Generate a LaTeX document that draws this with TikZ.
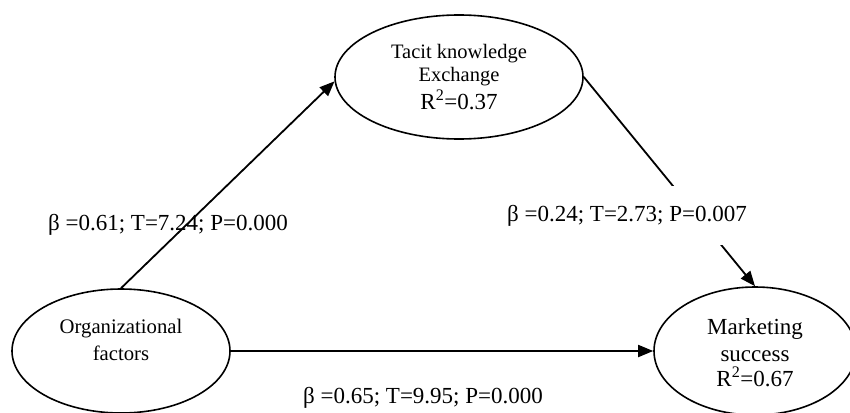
\documentclass[tikz,border=0pt]{standalone}
\usepackage{fontspec}
\setmainfont{Liberation Serif}
\usetikzlibrary{shapes.geometric,arrows.meta}
\tikzset{
  ell/.style={draw, ellipse, line width=1.6pt, inner sep=0pt},
  conn/.style={line width=1.8pt, -{Triangle[length=15pt,width=12pt]}},
  lbl/.style={font=\fontsize{23}{27}\selectfont, inner sep=0pt, anchor=base},
  etxt/.style={align=center, inner sep=0pt}
}
\begin{document}
\begin{tikzpicture}[x=1pt,y=-1pt]
\useasboundingbox (0,0) rectangle (850,412);
\fill[white] (0,0) rectangle (850,412);
% ellipses
\node[ell, minimum width=248pt, minimum height=124pt] (tke) at (459,77) {};
\node[ell, minimum width=218pt, minimum height=124pt] (org) at (121,351) {};
\node[ell, minimum width=202pt, minimum height=128pt] (ms) at (755,351) {};
% texts in ellipses
\node[etxt, font=\fontsize{20.5}{23.4}\selectfont] (tketxt) at (459,77)
  {Tacit knowledge\\Exchange\\[3.2pt]{\fontsize{23}{26}\selectfont R\textsuperscript{2}=0.37}};
\node[etxt, font=\fontsize{20.7}{27}\selectfont] (orgtxt) at (121,339.5)
  {Organizational\\factors};
\node[etxt, font=\fontsize{23}{27}\selectfont] (mstxt) at (755,353)
  {Marketing\\success\\[-2pt]R\textsuperscript{2}=0.67};
% connectors
\draw[conn] (org.north) -- (tke.182);
\draw[conn] (org.east) -- (ms.west);
\draw[conn] (tke.east) -- (ms.north);
% labels
\node[lbl] (l1) at (168,230) {β =0.61; T=7.24; P=0.000};
\node[lbl, fill=white, inner ysep=19pt, inner xsep=3pt] (l2) at (627,221) {β =0.24; T=2.73; P=0.007};
\node[lbl] (l3) at (423,403) {β =0.65; T=9.95; P=0.000};
\end{tikzpicture}
\end{document}
